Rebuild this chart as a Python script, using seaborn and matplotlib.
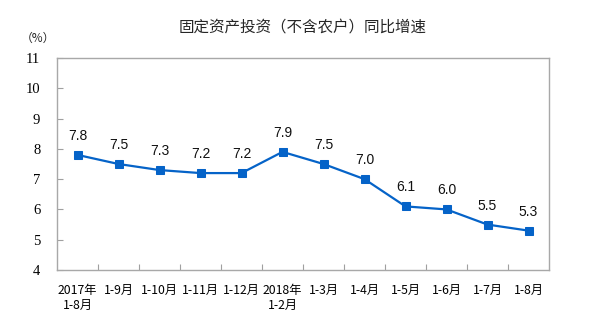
import matplotlib
matplotlib.use("Agg")
import matplotlib.pyplot as plt
import seaborn as sns
import pandas as pd

# Fixed-asset investment (excluding rural households), cumulative YoY growth
periods = ["2017年\n1-8月", "1-9月", "1-10月", "1-11月", "1-12月", "2018年\n1-2月",
           "1-3月", "1-4月", "1-5月", "1-6月", "1-7月", "1-8月"]
growth = [7.8, 7.5, 7.3, 7.2, 7.2, 7.9, 7.5, 7.0, 6.1, 6.0, 5.5, 5.3]
y_ticks = [4, 5, 6, 7, 8, 9, 10, 11]
title = "固定资产投资（不含农户）同比增速"
unit = "（%）"

sns.set_theme(style="white")
plt.rcParams["font.family"] = ["Noto Sans CJK SC", "DejaVu Sans"]

df = pd.DataFrame({"period": pd.Categorical(periods, categories=periods, ordered=True),
                   "growth": growth})
df["pos"] = range(len(df))

fig = plt.figure(figsize=(6.02, 3.25), dpi=100)
ax = fig.add_axes([57 / 602, 1 - 270 / 325, (549 - 57) / 602, (270 - 58) / 325])

line_color = "#0563C8"
sns.lineplot(data=df, x="pos", y="growth", ax=ax, color=line_color, linewidth=1.6,
             marker="s", markersize=5.2, markeredgecolor=line_color,
             markerfacecolor=line_color)

for xi, v in zip(df["pos"], df["growth"]):
    ax.annotate(f"{v:.1f}", (xi, v), textcoords="offset pixels", xytext=(0, 19),
                ha="center", va="center", fontsize=10, color="#111111",
                family=["Liberation Sans", "DejaVu Sans"])

ax.set_xlim(-0.5, len(periods) - 0.5)
ax.set_ylim(min(y_ticks), max(y_ticks))
ax.set_xticks(list(df["pos"]))
ax.set_xticklabels(periods, fontsize=8.8, linespacing=1.25)
ax.set_xticks([i + 0.5 for i in range(len(periods) - 1)], minor=True)
ax.set_yticks(y_ticks)
ax.set_yticklabels([str(t) for t in y_ticks], fontsize=10.5,
                   family=["Liberation Serif", "DejaVu Serif"])

ax.tick_params(axis="x", which="major", length=0, pad=10, colors="#000000")
ax.tick_params(axis="x", which="minor", bottom=True, direction="in", length=4,
               width=0.8, color="#A0A0A0")
ax.tick_params(axis="y", which="major", left=True, direction="in", length=4,
               width=0.8, color="#A0A0A0", pad=12, labelcolor="#000000")

ax.set_xlabel("")
ax.set_ylabel("")
for s in ax.spines.values():
    s.set_visible(True)
    s.set_color("#A8A8A8")
    s.set_linewidth(1.0)

fig.text(303 / 602, 1 - 27 / 325, title, ha="center", va="center", fontsize=11.2)
fig.text(38 / 602, 1 - 38 / 325, unit, ha="center", va="center", fontsize=8.5)

fig.savefig("out.png", dpi=100, facecolor="white")
